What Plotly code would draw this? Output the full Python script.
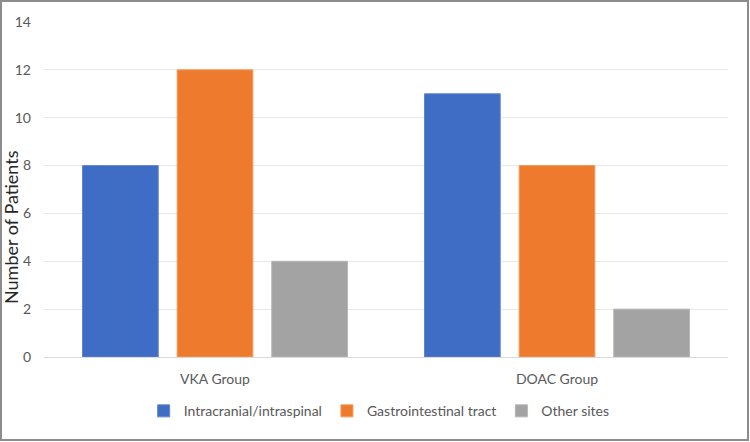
import plotly.graph_objects as go

groups = ["VKA Group", "DOAC Group"]
series_names = ["Intracranial/intraspinal", "Gastrointestinal tract", "Other sites"]
intracranial = [8, 11]
gastro = [12, 8]
other = [4, 2]
y_ticks = [0, 2, 4, 6, 8, 10, 12, 14]

colors = ["#3f6dc5", "#ee7b2d", "#a3a3a3"]
lines = ["#5f86d0", "#f29a5c", "#b5b5b5"]

fig = go.Figure()
for name, vals, c, lc in zip(series_names, [intracranial, gastro, other], colors, lines):
    fig.add_trace(go.Bar(x=groups, y=vals, name=name,
                         marker=dict(color=c, line=dict(color=lc, width=1))))

W, H = 750, 442
ml, mr, mt, mb = 44, 22, 22, 85
pw, ph = W - ml - mr, H - mt - mb

fig.update_layout(
    width=W, height=H,
    margin=dict(l=ml, r=mr, t=mt, b=mb, autoexpand=False),
    paper_bgcolor="white", plot_bgcolor="white",
    barmode="group", bargap=0.17, bargroupgap=0.2,
    font=dict(family="Lato, Open Sans, sans-serif", color="#595959", size=14),
    yaxis=dict(range=[0, 14], tickvals=y_ticks, showgrid=True, gridcolor="#e8e8e8",
               gridwidth=1, zeroline=True, zerolinecolor="#d9d9d9", zerolinewidth=1,
               showline=False, ticks="", ticklabelstandoff=12, automargin=False,
               tickfont=dict(size=14, color="#595959")),
    xaxis=dict(showline=False, ticks="", tickfont=dict(size=14, color="#595959"),
               ticklabelstandoff=12, automargin=False),
    legend=dict(orientation="h", x=0.49, xanchor="center", y=-0.162, yanchor="middle",
                font=dict(size=14, color="#595959"), itemwidth=30,
                traceorder="normal"),
    showlegend=True,
)

fig.add_annotation(text="Number of Patients", xref="paper", yref="paper",
                   x=(11 - ml) / pw, y=(H - 227 - mb) / ph, textangle=-90,
                   showarrow=False, xanchor="center", yanchor="middle",
                   font=dict(size=18, color="#262626"))

fig.add_shape(type="rect", xref="paper", yref="paper",
              x0=(1 - ml) / pw, x1=(W - 2 - ml) / pw,
              y0=(2 - mb) / ph, y1=(H - 1 - mb) / ph,
              line=dict(color="#8c8c8c", width=2), fillcolor="rgba(0,0,0,0)", layer="above")

fig.write_html("out.html")
